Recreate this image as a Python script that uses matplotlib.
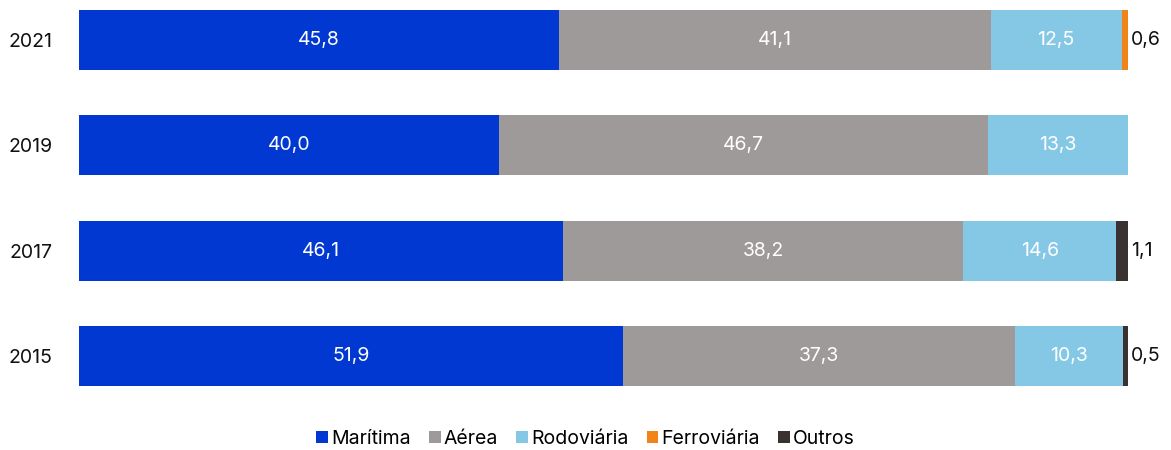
import numpy as np
import matplotlib.pyplot as plt

plt.rcParams['font.family'] = ['Inter', 'DejaVu Sans']

years = ['2015', '2017', '2019', '2021']
maritima = [51.9, 46.1, 40.0, 45.8]
aerea = [37.3, 38.2, 46.7, 41.1]
rodoviaria = [10.3, 14.6, 13.3, 12.5]
ferroviaria = [0.0, 0.0, 0.0, 0.6]
outros = [0.5, 1.1, 0.0, 0.0]

series = [
    ('Marítima', maritima, '#0038d1'),
    ('Aérea', aerea, '#9e9a99'),
    ('Rodoviária', rodoviaria, '#85c8e6'),
    ('Ferroviária', ferroviaria, '#f08418'),
    ('Outros', outros, '#3a3131'),
]

fig = plt.figure(figsize=(11.71, 4.5), dpi=100)
ax = fig.add_axes([79 / 1171, 50 / 450, 1049 / 1171, 400 / 450])

y = np.arange(len(years))
left = np.zeros(len(years))
for name, vals, color in series:
    vals = np.array(vals)
    ax.barh(y, vals, left=left, height=0.57, color=color, label=name)
    for i, v in enumerate(vals):
        if v == 0:
            continue
        txt = f'{v:.1f}'.replace('.', ',')
        if v >= 5:
            ax.text(left[i] + v / 2, y[i], txt, ha='center', va='center',
                    color='white', fontsize=14)
        else:
            ax.text(100.3, y[i], txt, ha='left', va='center',
                    color='#111111', fontsize=14)
    left += vals

ax.set_xlim(0, 100)
ax.set_ylim(-0.418, 3.38)
ax.set_yticks(y)
ax.set_yticklabels(years, fontsize=14, color='#111111')
ax.set_xticks([])
ax.tick_params(axis='y', length=0, pad=19)
for s in ax.spines.values():
    s.set_visible(False)

fig.legend(loc='center', bbox_to_anchor=(0.5, 11 / 450), ncol=5,
           frameon=False, fontsize=14, handlelength=0.6, handleheight=0.6,
           handletextpad=0.15, columnspacing=0.95)

fig.savefig('out.png', dpi=100)
